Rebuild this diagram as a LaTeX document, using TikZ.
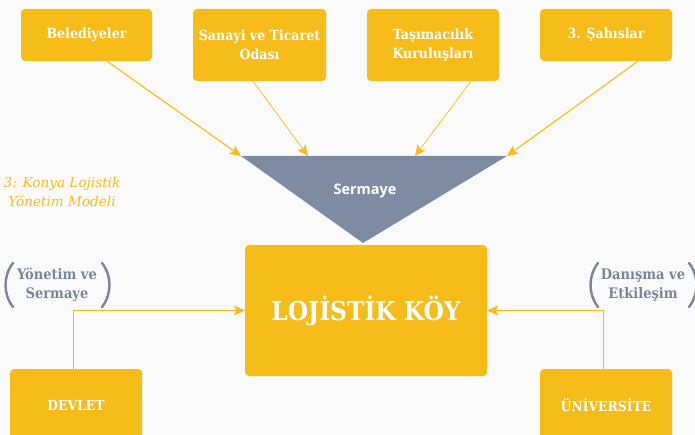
\documentclass[tikz,border=0pt]{standalone}
\usepackage{fontspec}
\setmainfont{DejaVu Serif}
\newfontfamily\slab{DejaVu Serif Condensed}
\newfontfamily\sansb{Open Sans}
\usetikzlibrary{arrows.meta,calc}
\definecolor{ylw}{RGB}{245,188,26}
\definecolor{slate}{RGB}{127,139,163}
\definecolor{ptext}{RGB}{122,133,155}
\definecolor{bgc}{RGB}{250,250,250}
\begin{document}
\begin{tikzpicture}[x=1pt,y=-1pt,
  box/.style={fill=ylw, rounded corners=4pt, text=white, align=center, inner sep=0pt,
    font=\slab\bfseries\fontsize{14}{19}\selectfont},
  arr/.style={draw=ylw, line width=1.1pt, -{Stealth[length=11pt,width=10pt,inset=2.5pt]}},
  thinarr/.style={arr, line width=0.7pt},
  plabel/.style={text=ptext, align=center, font=\slab\bfseries\fontsize{14.5}{19}\selectfont},
  paren/.style={draw=ptext, line width=2.4pt, line cap=round}]
\fill[bgc] (0,0) rectangle (695,435);
\useasboundingbox (0,0) rectangle (695,435);

% top boxes
\node[box, minimum width=131, minimum height=52] (bel) at (86.5,35) {Belediyeler};
\node[box, minimum width=133, minimum height=72] (san) at (259.5,45) {Sanayi ve Ticaret\\Odası};
\node[box, minimum width=132, minimum height=72] (tas) at (433,45) {Taşımacılık\\Kuruluşları};
\node[box, minimum width=132, minimum height=52] (sah) at (606,35) {3. Şahıslar};

% funnel
\coordinate (tl) at (241,156);
\coordinate (tr) at (507,156);
\coordinate (tp) at (363,243);
\fill[slate] (tl) -- (tr) -- (tp) -- cycle;
\node[text=white, font=\sansb\bfseries\fontsize{14.5}{16}\selectfont] (serm) at (365,191) {Sermaye};
\coordinate (t1) at (241,156);
\coordinate (t2) at (308,156);
\coordinate (t3) at (415,156);
\coordinate (t4) at (507,156);

\draw[arr] ($(bel.south)+(20.5,0)$) -- (t1);
\draw[thinarr] ($(san.south)+(-6.5,0)$) -- (t2);
\draw[thinarr] ($(tas.south)+(38,0)$) -- (t3);
\draw[arr] ($(sah.south)+(32,0)$) -- (t4);

% center
\node[box, minimum width=242, minimum height=131, font=\slab\bfseries\fontsize{26}{30}\selectfont] (koy) at (366,310.5) {LOJİSTİK KÖY};

% bottom boxes
\node[box, minimum width=132, minimum height=72, font=\slab\bfseries\fontsize{13.8}{16}\selectfont] (dev) at (76,405) {DEVLET};
\node[box, minimum width=132, minimum height=72, font=\slab\bfseries\fontsize{13.8}{16}\selectfont] (uni) at (606,405) {ÜNİVERSİTE};

\draw[thinarr, line width=0.9pt] ([xshift=-3pt]dev.north) |- (koy.west);
\draw[thinarr, line width=0.9pt] ([xshift=-3pt]uni.north) |- (koy.east);

% caption
\node[text=ylw, align=center, font=\itshape\fontsize{13.6}{19}\selectfont] (cap) at (62,192) {3: Konya Lojistik\\Yönetim Modeli};

% paren labels
\node[plabel] (ys) at (57,285) {Yönetim ve\\Sermaye};
\draw[paren] ($(ys)+(-44,-22)$) .. controls ($(ys)+(-54,-9)$) and ($(ys)+(-54,9)$) .. ($(ys)+(-44,22)$);
\draw[paren] ($(ys)+(45,-22)$) .. controls ($(ys)+(55,-9)$) and ($(ys)+(55,9)$) .. ($(ys)+(45,22)$);

\node[plabel] (da) at (643,285) {Danışma ve\\Etkileşim};
\draw[paren] ($(da)+(-45,-22)$) .. controls ($(da)+(-55,-9)$) and ($(da)+(-55,9)$) .. ($(da)+(-45,22)$);
\draw[paren] ($(da)+(46,-22)$) .. controls ($(da)+(56,-9)$) and ($(da)+(56,9)$) .. ($(da)+(46,22)$);
\end{tikzpicture}
\end{document}
